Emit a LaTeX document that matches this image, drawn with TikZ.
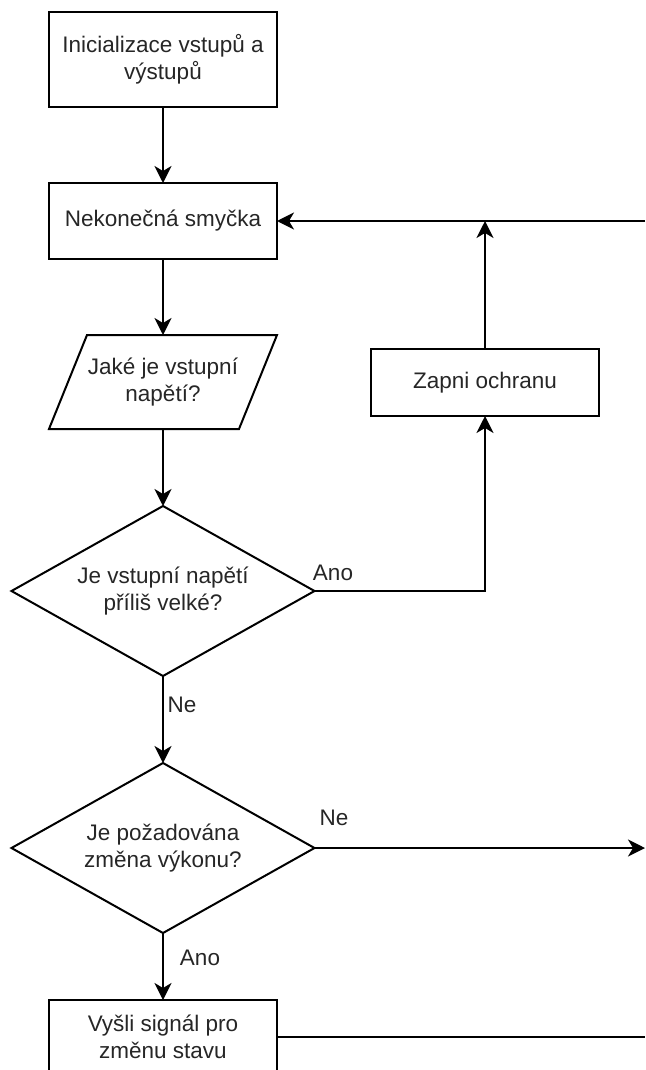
\documentclass[tikz,border=0pt]{standalone}
\usepackage{fontspec}
\setmainfont{Liberation Sans}
\usetikzlibrary{shapes.geometric,arrows.meta}
\begin{document}
\begin{tikzpicture}[x=1pt,y=-1pt,
  every node/.style={font=\fontsize{22.5}{27}\selectfont, text=black!85, outer sep=0pt},
  procbox/.style={draw=black, line width=2pt, rectangle, minimum width=228pt, align=center, inner sep=0pt},
  decision/.style={draw=black, line width=2pt, diamond, minimum width=303pt, minimum height=170pt, aspect=1.78, inner sep=0pt, align=center},
  conn/.style={line width=2pt, -{Stealth[length=17pt,width=17pt,inset=5pt]}},
  plain/.style={line width=2pt},
  lbl/.style={inner sep=0pt}
]
\useasboundingbox (0,0) rectangle (645,1070);
\clip (0,0) rectangle (645,1070);
\node[procbox, minimum height=95pt] (init) at (163,59.5) {Inicializace vstupů a\\výstupů};
\node[procbox, minimum height=76pt] (loop) at (163,221) {Nekonečná smyčka};
\draw[line width=2pt, line join=miter] (87,335) -- (277,335) -- (239,429) -- (49,429) -- cycle;
\node[rectangle, minimum width=190pt, minimum height=94pt, inner sep=0pt, align=center] (io) at (163,382) {Jaké je vstupní\\napětí?};
\node[decision] (d1) at (163,591) {Je vstupní napětí\\příliš velké?};
\node[procbox, minimum width=228pt, minimum height=67pt] (prot) at (485,382.5) {Zapni ochranu};
\node[decision] (d2) at (163,848) {Je požadována\\změna výkonu?};
\node[procbox, minimum height=74pt] (sig) at (163,1037) {Vyšli signál pro\\změnu stavu};
\coordinate (r1) at (645,221);
\coordinate (r2) at (645,848);
\coordinate (r3) at (645,1037);
\coordinate (j1) at (485,221);
\draw[conn] (init.south) -- (loop.north);
\draw[conn] (loop.south) -- (io.north);
\draw[conn] (io.south) -- (d1.north);
\draw[conn] (d1.south) -- (d2.north);
\draw[conn] (d2.south) -- (sig.north);
\draw[conn] (d1.east) -| (prot.south);
\draw[conn] (prot.north) -- (j1);
\draw[conn] (r1) -- (loop.east);
\draw[conn] (d2.east) -- (r2);
\draw[plain] (sig.east) -- (r3);
\node[lbl] (l1) at (333,573) {Ano};
\node[lbl] (l2) at (182,705) {Ne};
\node[lbl] (l3) at (334,818) {Ne};
\node[lbl] (l4) at (200,958) {Ano};
\end{tikzpicture}
\end{document}
